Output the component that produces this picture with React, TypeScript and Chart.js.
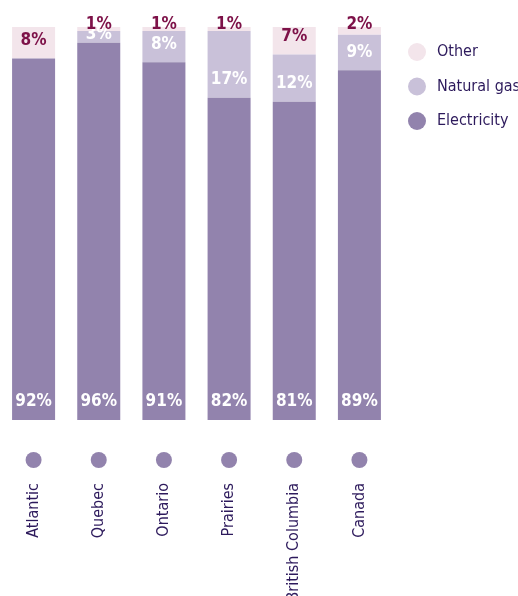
import React, { useEffect, useRef } from "react";
import { Chart, registerables } from "chart.js";
Chart.register(...registerables);

const categories = ["Atlantic", "Quebec", "Ontario", "Prairies", "British Columbia", "Canada"];
const electricity = [92, 96, 91, 82, 81, 89];
const naturalGas = [0, 3, 8, 17, 12, 9];
const other = [8, 1, 1, 1, 7, 2];
const seriesNames = ["Electricity", "Natural gas", "Other"];
const seriesColors = ["#9283ad", "#c9c1d9", "#f3e5eb"];
const valueLabelColors = ["#ffffff", "#ffffff", "#7d1148"];
const textColor = "#2d1a5c";
const FONT = "'DejaVu Sans Condensed', 'Liberation Sans Narrow', Lato, sans-serif";

const segmentLabels = {
  id: "segmentLabels",
  afterDatasetsDraw(chart: any) {
    const ctx = chart.ctx;
    ctx.save();
    ctx.font = `bold 17px ${FONT}`;
    ctx.textAlign = "center";
    ctx.textBaseline = "middle";
    chart.data.datasets.forEach((ds: any, di: number) => {
      const meta = chart.getDatasetMeta(di);
      meta.data.forEach((bar: any, i: number) => {
        const v = ds.data[i];
        if (!v) return;
        const p = bar.getProps(["x", "y", "base"], true);
        const minY = di === 2 ? p.y - 2 : p.y + 4;
        const y = Math.max(p.base - 18, minY);
        ctx.fillStyle = valueLabelColors[di];
        ctx.fillText(v + "%", p.x, y);
      });
    });
    ctx.restore();
  },
};

const categoryAxis = {
  id: "categoryAxis",
  afterDraw(chart: any) {
    const ctx = chart.ctx;
    const xs = chart.scales.x;
    const bottom = chart.chartArea.bottom;
    ctx.save();
    chart.data.labels.forEach((lab: string, i: number) => {
      const x = xs.getPixelForValue(i);
      ctx.fillStyle = seriesColors[0];
      ctx.beginPath();
      ctx.arc(x, bottom + 40, 8, 0, Math.PI * 2);
      ctx.fill();
      ctx.save();
      ctx.translate(x, bottom + 63);
      ctx.rotate(-Math.PI / 2);
      ctx.font = `16px ${FONT}`;
      ctx.fillStyle = textColor;
      ctx.textAlign = "right";
      ctx.textBaseline = "middle";
      ctx.fillText(lab, 0, 0);
      ctx.restore();
    });
    ctx.restore();
  },
};

const sideLegend = {
  id: "sideLegend",
  afterDraw(chart: any) {
    const ctx = chart.ctx;
    const left = chart.chartArea.right + 25;
    ctx.save();
    ctx.font = `16px ${FONT}`;
    ctx.textAlign = "left";
    ctx.textBaseline = "middle";
    const order = [2, 1, 0];
    order.forEach((di, k) => {
      const y = 52 + k * 34.5;
      ctx.fillStyle = seriesColors[di];
      ctx.beginPath();
      ctx.arc(left, y, 9, 0, Math.PI * 2);
      ctx.fill();
      ctx.fillStyle = textColor;
      ctx.fillText(seriesNames[di], left + 20, y);
    });
    ctx.restore();
  },
};

export default function App() {
  const ref = useRef<HTMLCanvasElement>(null);
  useEffect(() => {
    if (!ref.current) return;
    const values = [electricity, naturalGas, other];
    const chart = new Chart(ref.current, {
      type: "bar",
      data: {
        labels: categories,
        datasets: values.map((d, i) => ({
          label: seriesNames[i],
          data: d,
          backgroundColor: seriesColors[i],
          borderWidth: 0,
          categoryPercentage: 1,
          barPercentage: 0.66,
        })),
      },
      options: {
        animation: false,
        responsive: true,
        maintainAspectRatio: false,
        layout: { padding: { left: 1, right: 126, top: 27, bottom: 176 } },
        plugins: { legend: { display: false }, tooltip: { enabled: false } },
        scales: {
          x: { stacked: true, display: false },
          y: { stacked: true, display: false, min: 0, max: 100 },
        },
      },
      plugins: [segmentLabels, categoryAxis, sideLegend],
    });
    return () => chart.destroy();
  }, []);
  return (
    <div style={{ position: "fixed", left: 0, top: 0, width: 518, height: 596, background: "#fff" }}>
      <canvas ref={ref} />
    </div>
  );
}
